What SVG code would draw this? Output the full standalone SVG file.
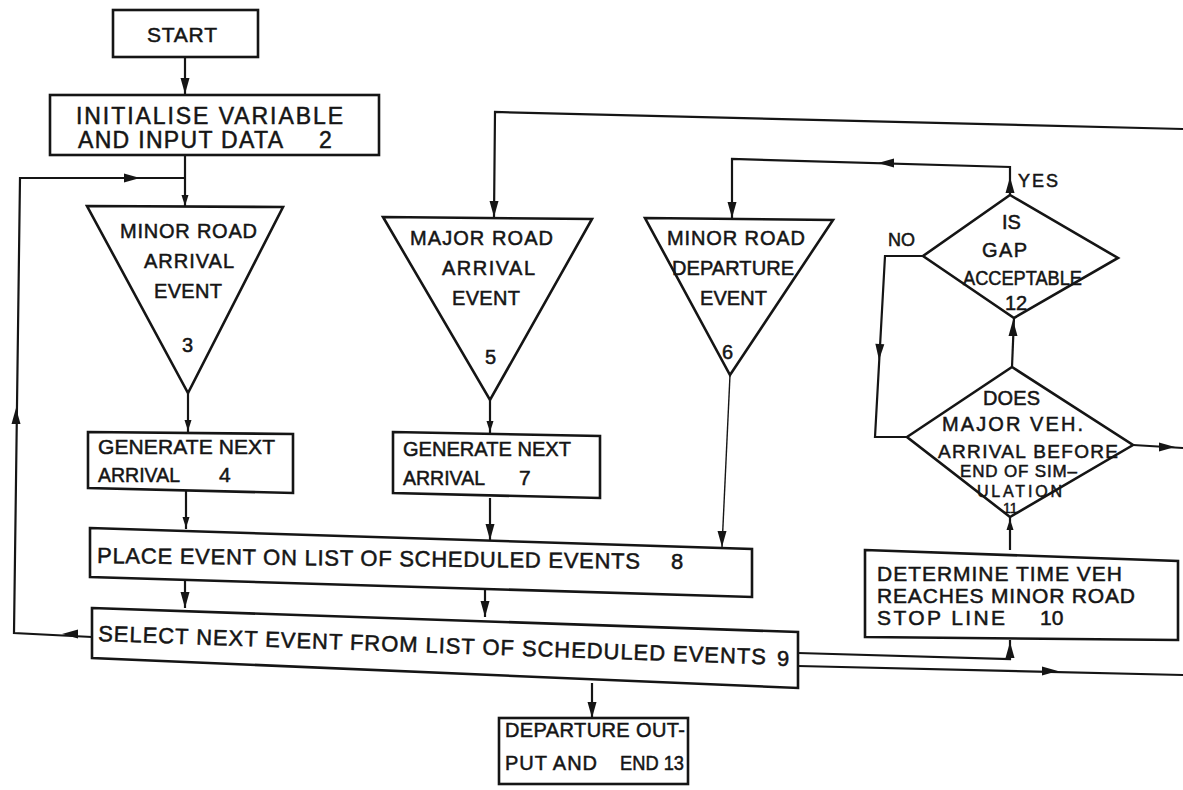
<svg xmlns="http://www.w3.org/2000/svg" xmlns:xlink="http://www.w3.org/1999/xlink" width="1183" height="790" viewBox="0 0 1183 790">
  <style>
    .box { fill: #ffffff; stroke: #151515; stroke-width: 2.6; stroke-linejoin: miter; }
    .ln { fill: none; stroke: #151515; stroke-width: 2.2; stroke-linejoin: miter; }
    .thin { stroke-width: 1.4; }
    .ah { fill: #151515; }
    text { font-family: "Liberation Sans", Arial, sans-serif; fill: #151515; stroke: #151515; stroke-width: 0.5; font-size: 20px; }
    .s23 { font-size: 23px; }
    .s22 { font-size: 22px; }
    .s21 { font-size: 21px; }
    .s19 { font-size: 19px; }
    .s18 { font-size: 18px; }
    .s17 { font-size: 17px; }
    .s16 { font-size: 16px; }
    .s14 { font-size: 14px; }
  </style>
  <defs>
    <path id="ah" d="M0,0 L-16,-4.5 L-16,4.5 Z"/>
    <path id="ahs" d="M0,0 L-11,-3.5 L-11,3.5 Z"/>
  </defs>
  <rect width="1183" height="790" fill="#ffffff"/>

  <!-- connectors -->
  <g id="connectors">
    <path class="ln" d="M185,57 L185,95"/>
    <path class="ln" d="M185,155 L185,207"/>
    <!-- return loop from event selection back to the top -->
    <path class="ln" d="M92,637 L14,633 L20,178 L185,178"/>
    <path class="ln" d="M188,393 L188,432"/>
    <path class="ln" d="M186,490 L186,529"/>
    <path class="ln" d="M490,400 L490,433"/>
    <path class="ln" d="M490,498 L490,540"/>
    <path class="ln thin" d="M730,375 L722,547"/>
    <path class="ln" d="M185,577 L185,608"/>
    <path class="ln" d="M485,590 L485,617"/>
    <path class="ln" d="M592,683 L592,718"/>
    <path class="ln" d="M798,653 L1010,659 L1010,640"/>
    <path class="ln" d="M798,666 L1183,675"/>
    <path class="ln" d="M1183,129 L495,112 L494,217"/>
    <path class="ln" d="M1010,195 L1010,167 L732,159 L732,218"/>
    <path class="ln" d="M923,256 L885,256 L875,437 L907,437"/>
    <path class="ln" d="M1012,367 L1014,318"/>
    <path class="ln" d="M1133,445 L1183,448"/>
    <path class="ln" d="M1010,550 L1010,517"/>

    <use href="#ah" class="ah" transform="translate(185,94) rotate(90)"/>
    <use href="#ahs" class="ah" transform="translate(185,206) rotate(90)"/>
    <use href="#ah" class="ah" transform="translate(62,634) rotate(180)"/>
    <use href="#ah" class="ah" transform="translate(16,408) rotate(-90)"/>
    <use href="#ah" class="ah" transform="translate(140,178)"/>
    <use href="#ahs" class="ah" transform="translate(188,431) rotate(90)"/>
    <use href="#ahs" class="ah" transform="translate(186,528) rotate(90)"/>
    <use href="#ahs" class="ah" transform="translate(490,432) rotate(90)"/>
    <use href="#ah" class="ah" transform="translate(490,540) rotate(90)"/>
    <use href="#ah" class="ah" transform="translate(722,547) rotate(90)"/>
    <use href="#ah" class="ah" transform="translate(185,608) rotate(90)"/>
    <use href="#ah" class="ah" transform="translate(485,617) rotate(90)"/>
    <use href="#ah" class="ah" transform="translate(592,718) rotate(90)"/>
    <use href="#ah" class="ah" transform="translate(1010,642) rotate(-90)"/>
    <use href="#ah" class="ah" transform="translate(1058,671)"/>
    <use href="#ah" class="ah" transform="translate(494,217) rotate(90)"/>
    <use href="#ah" class="ah" transform="translate(1010,177) rotate(-90)"/>
    <use href="#ah" class="ah" transform="translate(878,163) rotate(180)"/>
    <use href="#ah" class="ah" transform="translate(732,218) rotate(90)"/>
    <use href="#ah" class="ah" transform="translate(879,360) rotate(93)"/>
    <use href="#ah" class="ah" transform="translate(1013,320) rotate(-90)"/>
    <use href="#ah" class="ah" transform="translate(1175,447)"/>
    <use href="#ahs" class="ah" transform="translate(1010,519) rotate(-90)"/>

    <text x="1018" y="187" class="s18" textLength="40" lengthAdjust="spacing">YES</text>
    <text x="888" y="246" class="s18">NO</text>
  </g>

  <!-- 1 start -->
  <g id="start">
    <rect class="box" x="113" y="10" width="145" height="47"/>
    <text x="147" y="42" class="s21" textLength="70" lengthAdjust="spacing">START</text>
  </g>

  <!-- 2 initialise -->
  <g id="initialise">
    <rect class="box" x="50" y="95" width="329" height="60"/>
    <text x="76" y="124" class="s23" textLength="267" lengthAdjust="spacing">INITIALISE VARIABLE</text>
    <text x="78" y="148" class="s23" textLength="205" lengthAdjust="spacing">AND INPUT DATA</text>
    <text x="319" y="148" class="s23">2</text>
  </g>

  <!-- 3 minor road arrival -->
  <g id="minor-arrival">
    <polygon class="box" points="87,206 283,207 188,393"/>
    <text x="120" y="238" textLength="137" lengthAdjust="spacing">MINOR ROAD</text>
    <text x="144" y="268" textLength="90" lengthAdjust="spacing">ARRIVAL</text>
    <text x="154" y="298" textLength="68" lengthAdjust="spacing">EVENT</text>
    <text x="182" y="352">3</text>
  </g>

  <!-- 5 major road arrival -->
  <g id="major-arrival">
    <polygon class="box" points="383,217 592,219 490,400"/>
    <text x="410" y="245" textLength="143" lengthAdjust="spacing">MAJOR ROAD</text>
    <text x="442" y="275" textLength="93" lengthAdjust="spacing">ARRIVAL</text>
    <text x="452" y="305" textLength="68" lengthAdjust="spacing">EVENT</text>
    <text x="485" y="364">5</text>
  </g>

  <!-- 6 minor road departure -->
  <g id="minor-departure">
    <polygon class="box" points="645,218 833,220 730,375"/>
    <text x="667" y="245" textLength="138" lengthAdjust="spacing">MINOR ROAD</text>
    <text x="672" y="275" textLength="122" lengthAdjust="spacing">DEPARTURE</text>
    <text x="700" y="305" textLength="67" lengthAdjust="spacing">EVENT</text>
    <text x="722" y="359">6</text>
  </g>

  <!-- 4 generate next arrival (minor) -->
  <g id="generate-minor">
    <polygon class="box" points="88,432 293,434 293,493 88,488"/>
    <text x="98" y="454" class="s21" textLength="177" lengthAdjust="spacing">GENERATE NEXT</text>
    <text x="98" y="482" class="s21" textLength="82" lengthAdjust="spacingAndGlyphs">ARRIVAL</text>
    <text x="219" y="482" class="s21">4</text>
  </g>

  <!-- 7 generate next arrival (major) -->
  <g id="generate-major">
    <polygon class="box" points="393,432 600,436 600,498 393,493"/>
    <text x="403" y="456" class="s21" textLength="168" lengthAdjust="spacingAndGlyphs">GENERATE NEXT</text>
    <text x="403" y="485" class="s21" textLength="82" lengthAdjust="spacingAndGlyphs">ARRIVAL</text>
    <text x="519" y="485" class="s21">7</text>
  </g>

  <!-- 8 place event on list -->
  <g id="place-event">
    <polygon class="box" points="90,528 752,549 752,597 90,577"/>
    <text x="97" y="563" class="s22" textLength="543" lengthAdjust="spacing" transform="rotate(0.6 97 563)">PLACE EVENT ON LIST OF SCHEDULED EVENTS</text>
    <text x="671" y="569" class="s22">8</text>
  </g>

  <!-- 9 select next event -->
  <g id="select-event">
    <polygon class="box" points="92,608 798,632 798,688 92,658"/>
    <text x="98" y="641" class="s22" textLength="668" lengthAdjust="spacing" transform="rotate(2 98 641)">SELECT NEXT EVENT FROM LIST OF SCHEDULED EVENTS</text>
    <text x="777" y="666" class="s22">9</text>
  </g>

  <!-- 13 departure output and end -->
  <g id="output-end">
    <rect class="box" x="499" y="718" width="189" height="66"/>
    <text x="505" y="737" textLength="180" lengthAdjust="spacing">DEPARTURE OUT-</text>
    <text x="505" y="770" textLength="92" lengthAdjust="spacing">PUT AND</text>
    <text x="620" y="770" textLength="64" lengthAdjust="spacingAndGlyphs">END 13</text>
  </g>

  <!-- 10 determine time -->
  <g id="determine-time">
    <polygon class="box" points="865,550 1178,561 1178,640 865,637"/>
    <text x="877" y="581" class="s21" textLength="245" lengthAdjust="spacing">DETERMINE TIME VEH</text>
    <text x="877" y="603" class="s21" textLength="258" lengthAdjust="spacing">REACHES MINOR ROAD</text>
    <text x="877" y="625" class="s21" textLength="128" lengthAdjust="spacing">STOP LINE</text>
    <text x="1040" y="625" class="s21">10</text>
  </g>

  <!-- 11 major vehicle arrival decision -->
  <g id="decision-arrival">
    <polygon class="box" points="1012,367 1133,445 1010,517 907,437"/>
    <text x="983" y="405" textLength="57" lengthAdjust="spacing">DOES</text>
    <text x="942" y="431" textLength="141" lengthAdjust="spacing">MAJOR VEH.</text>
    <text x="938" y="458" class="s19" textLength="180" lengthAdjust="spacing">ARRIVAL BEFORE</text>
    <text x="960" y="477" class="s17" textLength="117" lengthAdjust="spacing">END OF SIM–</text>
    <text x="977" y="497" class="s16" textLength="85" lengthAdjust="spacing">ULATION</text>
    <text x="1003" y="513" class="s14">11</text>
  </g>

  <!-- 12 gap acceptance decision -->
  <g id="decision-gap">
    <polygon class="box" points="1010,195 1118,258 1014,318 923,256"/>
    <text x="1002" y="229">IS</text>
    <text x="982" y="257" textLength="45" lengthAdjust="spacing">GAP</text>
    <text x="963" y="285" textLength="119" lengthAdjust="spacingAndGlyphs">ACCEPTABLE</text>
    <text x="1005" y="310">12</text>
  </g>
</svg>
